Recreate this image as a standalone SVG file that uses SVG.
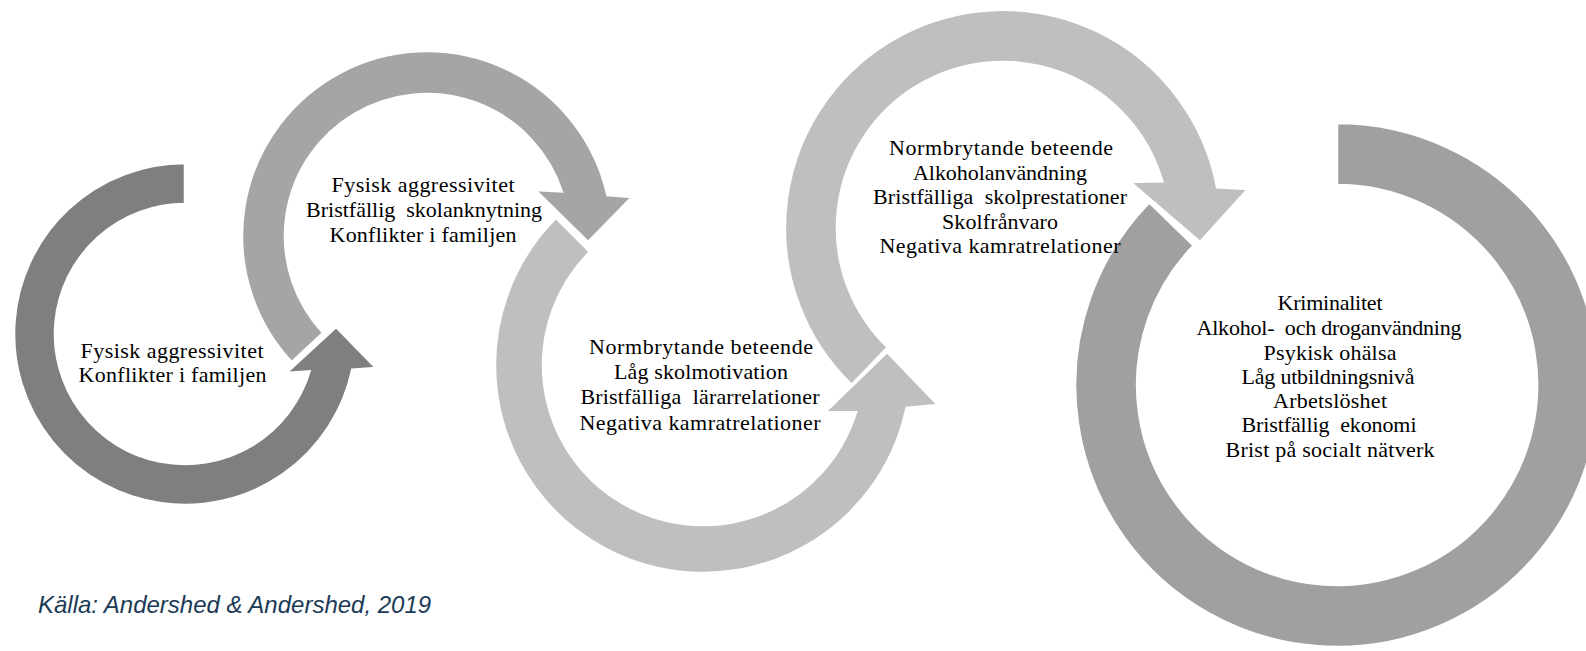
<svg xmlns="http://www.w3.org/2000/svg" width="1586" height="651" viewBox="0 0 1586 651">
<style>
.ring{stroke:#ffffff;stroke-width:2.5;stroke-linejoin:miter}
.c1{fill:#7f7f7f}
.c2{fill:#a5a5a5}
.c3{fill:#bfbfbf}
.c5{fill:#a0a0a0}
.lbl{font-family:"Liberation Serif","Times New Roman",serif;font-size:22px;fill:#000000;text-anchor:middle;white-space:pre}
.src{font-family:"Liberation Sans",Arial,sans-serif;font-size:24px;font-style:italic;fill:#1b3a57}
</style>
<rect width="1586" height="651" fill="#ffffff"/>
<g id="connectors"></g>
<g id="stage5">
<path class="ring c5" d="M1337,123 A262,262 0 1 1 1149.3,202.3 L1193.7,245.6 A200,200 0 1 0 1337,185 Z"/>
<text class="lbl" xml:space="preserve"><tspan x="1330" y="310" textLength="105" lengthAdjust="spacing">Kriminalitet</tspan><tspan x="1329" y="335" textLength="265" lengthAdjust="spacing">Alkohol-  och droganvändning</tspan><tspan x="1330" y="360" textLength="133" lengthAdjust="spacing">Psykisk ohälsa</tspan><tspan x="1328" y="384" textLength="173" lengthAdjust="spacing">Låg utbildningsnivå</tspan><tspan x="1330" y="407.5" textLength="114" lengthAdjust="spacing">Arbetslöshet</tspan><tspan x="1329" y="431.5" textLength="175" lengthAdjust="spacing">Bristfällig  ekonomi</tspan><tspan x="1330" y="456.5" textLength="209" lengthAdjust="spacing">Brist på socialt nätverk</tspan></text>
</g>
<g id="stage4">
<path class="ring c3" d="M851.6,384.8 A218,218 0 1 1 1217.1,187.2 L1248,189 L1200,242 L1130,182 L1162.3,181.4 A166,166 0 1 0 887.7,347.4 Z"/>
<text class="lbl" xml:space="preserve"><tspan x="1001" y="155" textLength="224" lengthAdjust="spacing">Normbrytande beteende</tspan><tspan x="1000" y="180" textLength="174" lengthAdjust="spacing">Alkoholanvändning</tspan><tspan x="1000" y="204" textLength="254" lengthAdjust="spacing">Bristfälliga  skolprestationer</tspan><tspan x="1000" y="229" textLength="116" lengthAdjust="spacing">Skolfrånvaro</tspan><tspan x="1000" y="253" textLength="241" lengthAdjust="spacing">Negativa kamratrelationer</tspan></text>
</g>
<g id="stage3">
<path class="ring c3" d="M555.9,217.9 A208,208 0 1 0 906.5,407.9 L938,405 L887,352 L825,412 L855.9,412.3 A160,160 0 1 1 589.9,251.9 Z"/>
<text class="lbl" xml:space="preserve"><tspan x="701" y="354" textLength="224" lengthAdjust="spacing">Normbrytande beteende</tspan><tspan x="701" y="379" textLength="174" lengthAdjust="spacing">Låg skolmotivation</tspan><tspan x="700" y="404" textLength="239" lengthAdjust="spacing">Bristfälliga  lärarrelationer</tspan><tspan x="700" y="430" textLength="241" lengthAdjust="spacing">Negativa kamratrelationer</tspan></text>
</g>
<g id="stage2">
<path class="ring c2" d="M291.7,362.2 A185,185 0 1 1 607.4,195 L632,197 L588,242 L535,190 L561.8,191.4 A142,142 0 1 0 323.1,332.8 Z"/>
<text class="lbl" xml:space="preserve"><tspan x="423" y="191.5" textLength="183" lengthAdjust="spacing">Fysisk aggressivitet</tspan><tspan x="424" y="216.5" textLength="236" lengthAdjust="spacing">Bristfällig  skolanknytning</tspan><tspan x="423" y="241.5" textLength="187" lengthAdjust="spacing">Konflikter i familjen</tspan></text>
</g>
<g id="stage1">
<path class="ring c1" d="M185,163 A171,171 0 1 0 352.3,369.6 L376,368 L336,327 L286,373 L309.5,371.4 A130,130 0 1 1 185,204 Z"/>
<text class="lbl" xml:space="preserve"><tspan x="172" y="358" textLength="183" lengthAdjust="spacing">Fysisk aggressivitet</tspan><tspan x="172.5" y="382" textLength="188" lengthAdjust="spacing">Konflikter i familjen</tspan></text>
</g>
<g id="source">
<text class="src" x="38" y="613">Källa: Andershed &amp; Andershed, 2019</text>
</g>
</svg>
